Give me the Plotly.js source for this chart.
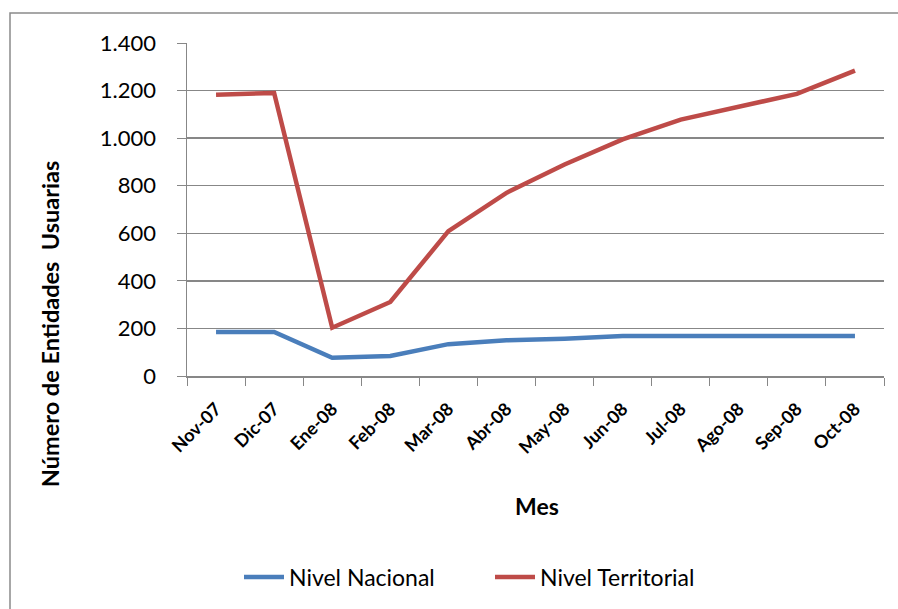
<!DOCTYPE html>
<html>
<head>
<meta charset="utf-8">
<script src="https://cdn.plot.ly/plotly-3.0.1.min.js"></script>
<style>html,body{margin:0;padding:0;background:#fff;}#chart{width:898px;height:609px;}</style>
</head>
<body>
<div id="chart"></div>
<script>
const months = ["Nov-07","Dic-07","Ene-08","Feb-08","Mar-08","Abr-08","May-08","Jun-08","Jul-08","Ago-08","Sep-08","Oct-08"];
const nivelNacional = [185, 185, 77, 84, 134, 150, 157, 168, 168, 168, 168, 168];
const nivelTerritorial = [1182, 1190, 203, 311, 609, 770, 889, 995, 1078, 1131, 1186, 1284];
const yTicks = [0, 200, 400, 600, 800, 1000, 1200, 1400];

const W = 898, H = 609;
const L = 187, R = 14, T = 43, B = 232;
const pw = W - L - R, ph = H - T - B;
const px = x => (x - L) / pw;
const py = y => (H - B - y) / ph;

const font = "Lato, 'Open Sans', sans-serif";
const grid = "#878787";

const traces = [
  {x: months, y: nivelNacional, name: "Nivel Nacional", type: "scatter", mode: "lines",
   line: {color: "#4A7EBB", width: 4.5}},
  {x: months, y: nivelTerritorial, name: "Nivel Territorial", type: "scatter", mode: "lines",
   line: {color: "#BE4B48", width: 4.5}}
];

const layout = {
  width: W, height: H,
  margin: {l: L, r: R, t: T, b: B},
  paper_bgcolor: "#fff", plot_bgcolor: "#fff",
  separators: ",.",
  font: {family: font, size: 15, color: "#000"},
  showlegend: true,
  legend: {orientation: "h", x: px(490), y: py(577), xanchor: "center", yanchor: "middle",
           font: {family: font, size: 23, color: "#000"}, itemwidth: 40, entrywidth: 196,
           traceorder: "normal"},
  xaxis: {
    type: "category", tickson: "boundaries", ticks: "outside", ticklen: 8, tickcolor: grid,
    showline: true, linecolor: grid, linewidth: 1.5, showgrid: false, zeroline: false,
    tickangle: -45, ticklabelstandoff: 14,
    tickfont: {family: font, size: 18, color: "#000", weight: "bold"},
    range: [-0.5, 11.5]
  },
  yaxis: {
    range: [0, 1400], tickvals: yTicks, tickformat: ",d", separatethousands: true,
    ticks: "outside", ticklen: 9, tickcolor: grid, ticklabelstandoff: 16,
    showline: true, linecolor: grid, linewidth: 1.5,
    showgrid: true, gridcolor: grid, gridwidth: 1.5, zeroline: false,
    tickfont: {family: font, size: 22, color: "#000"}
  },
  annotations: [
    {text: "<b>Número de Entidades  Usuarias</b>", xref: "paper", yref: "paper",
     x: px(50), y: py(325), textangle: -90, showarrow: false,
     xanchor: "center", yanchor: "middle", font: {family: font, size: 23.5, color: "#000"}},
    {text: "<b>Mes</b>", xref: "paper", yref: "paper",
     x: px(537), y: py(507), showarrow: false,
     xanchor: "center", yanchor: "middle", font: {family: font, size: 23, color: "#000"}}
  ],
  shapes: [
    {type: "rect", xref: "paper", yref: "paper", x0: px(10), x1: px(905), y0: py(620), y1: py(13),
     line: {color: "#8a8a8a", width: 1.5}, layer: "below"}
  ]
};

Plotly.newPlot("chart", traces, layout, {displayModeBar: false, staticPlot: true});
</script>
</body>
</html>
